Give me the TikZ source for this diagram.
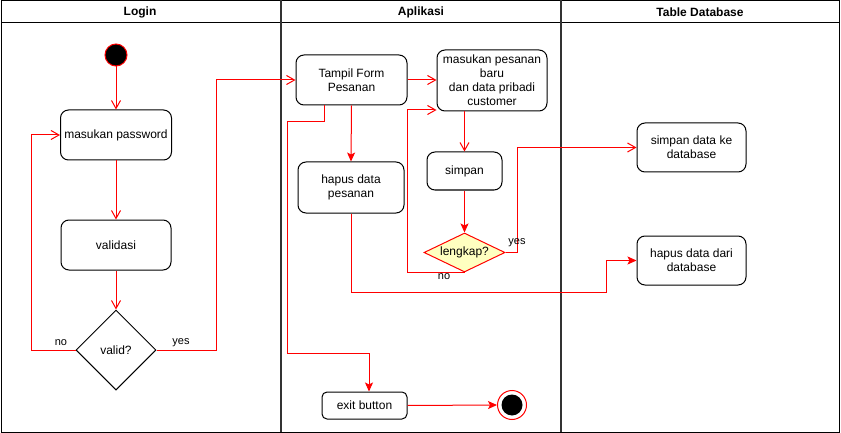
\documentclass[tikz,border=0pt]{standalone}
\usepackage{fontspec}
\setmainfont{Liberation Sans}
\usetikzlibrary{arrows.meta,shapes.geometric,calc}
\definecolor{flowred}{HTML}{FF0000}
\definecolor{lanegray}{HTML}{333333}
\definecolor{decfill}{HTML}{FFFFC0}
\tikzset{
  box/.style={draw=black,line width=1pt,rounded corners=8pt,fill=white,align=center,
    font=\fontsize{12}{14}\selectfont,inner sep=1pt},
  hdr/.style={font=\fontsize{12}{14}\selectfont\bfseries},
  lbl/.style={font=\fontsize{11}{13}\selectfont,inner sep=0pt},
  flow/.style={draw=flowred,line width=1pt},
  openarr/.style={flow,-{Straight Barb[length=8pt,width=9pt,line width=1pt]}},
  fillarr/.style={flow,-{Stealth[length=9pt,width=8pt,inset=2pt]}},
  lanel/.style={draw=lanegray,line width=1.5pt},
}
\begin{document}
\begin{tikzpicture}[x=1pt,y=-1pt]
\useasboundingbox (0,0) rectangle (841,433);
% swimlanes
\draw[black,line width=1pt] (1,0.5) rectangle (839,432);
\draw[black,line width=1pt] (1,23) -- (839,23);
\draw[lanel] (281,0) -- (281,432);
\draw[lanel] (561,0) -- (561,432);
\node[hdr] (hlogin) at (140,12) {Login};
\node[hdr] (happ) at (421,12) {Aplikasi};
\node[hdr] (hdb) at (700,12) {Table Database};
% Login lane
\node[circle,draw=flowred,fill=black,line width=1pt,minimum size=22pt,inner sep=0pt] (start) at (116,55) {};
\node[box,minimum width=111pt,minimum height=50pt] (mp) at (116,135) {masukan password};
\node[box,minimum width=110pt,minimum height=50pt] (val) at (116,245) {validasi};
\node[diamond,draw=black,line width=1pt,fill=white,minimum width=80pt,minimum height=80pt,inner sep=0pt,
      font=\fontsize{12}{14}\selectfont] (valid) at (116,350) {valid?};
% Aplikasi lane
\node[box,minimum width=111pt,minimum height=50pt] (tampil) at (351.5,80) {Tampil Form\\Pesanan};
\node[box,minimum width=110pt,minimum height=61pt] (masuk) at (492,80.5) {masukan pesanan\\baru\\dan data pribadi\\customer};
\node[box,minimum width=106pt,minimum height=51pt] (hapus) at (351,187.5) {hapus data\\pesanan};
\node[box,minimum width=75pt,minimum height=38pt] (simpan) at (464.5,171) {simpan};
\node[diamond,draw=flowred,fill=decfill,line width=1pt,minimum width=81pt,minimum height=39pt,
      shape aspect=2,inner sep=0pt,font=\fontsize{12}{14}\selectfont] (lengkap) at (464.5,252.5) {lengkap?};
\node[box,minimum width=85pt,minimum height=27pt,rounded corners=5pt] (exitb) at (364.5,405.5) {exit button};
\node[circle,draw=flowred,fill=white,line width=1pt,minimum size=29pt,inner sep=0pt] (endc) at (512,405) {};
\node[circle,fill=black,minimum size=21pt,inner sep=0pt] (endin) at (endc) {};
% Database lane
\node[box,minimum width=109pt,minimum height=49pt] (sdb) at (691.5,147.5) {simpan data ke\\database};
\node[box,minimum width=109pt,minimum height=49pt] (hdbx) at (691.5,260.5) {hapus data dari\\database};
% connectors
\draw[openarr] (start) -- (mp);
\draw[openarr] (mp) -- (val);
\draw[openarr] (val) -- (valid);
\draw[openarr] (valid.west) -- (31,350) |- (mp.west);
\node[lbl] (lno1) at (61,343) {no};
\draw[openarr] (valid.east) -- (216,350) |- (tampil.west);
\node[lbl] (lyes1) at (181,343) {yes};
\draw[openarr] (tampil.east) -- (masuk.west |- tampil.east);
\draw[fillarr] (tampil.south) -- (hapus.north);
\draw[openarr] (simpan.north |- masuk.south) -- (simpan.north);
\draw[fillarr] (simpan.south) -- (lengkap.north);
\draw[openarr] (lengkap.south) -| (407,110) -- (masuk.west |- 0,110);
\node[lbl] (lno2) at (444,276.5) {no};
\draw[openarr] (lengkap.east) -- (517,252.5) |- (sdb.west);
\node[lbl] (lyes2) at (517,243) {yes};
\draw[fillarr] (hapus.south) |- (606,292) |- (hdbx.west);
\draw[fillarr] ($(tampil.south)+(-27.5,0)$) -- (324,122) -- (287,122) |- (369,353) -- (exitb.north -| 369,0);
\draw[fillarr] (exitb.east) -- (endc.west);
\end{tikzpicture}
\end{document}
